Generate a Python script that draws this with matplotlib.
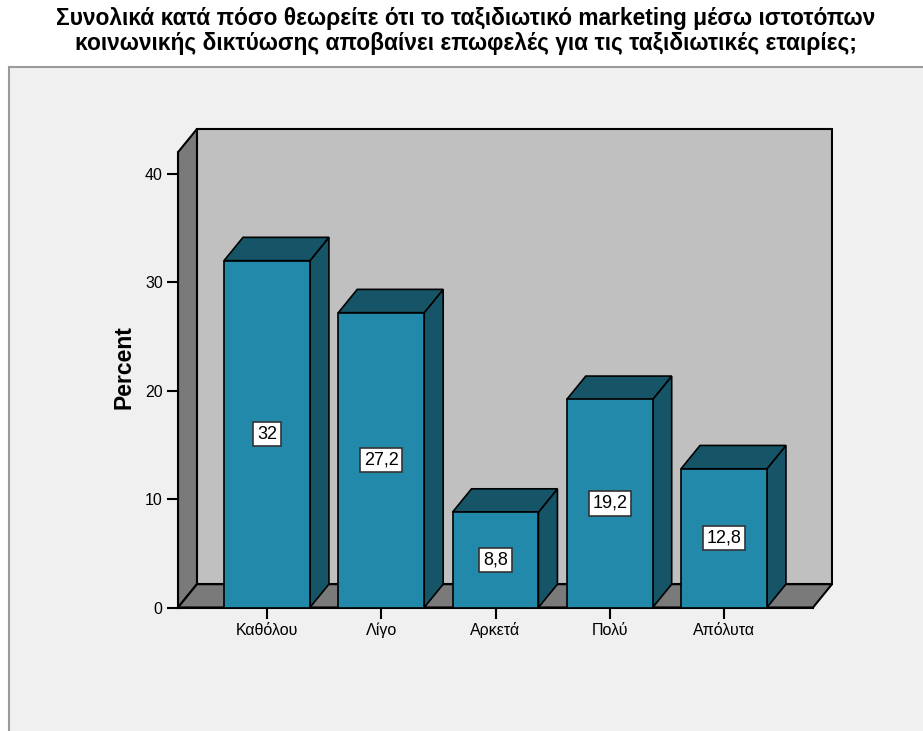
import matplotlib
matplotlib.use("Agg")
import matplotlib.pyplot as plt
from matplotlib.patches import Polygon, Rectangle

plt.rcParams['font.family'] = ['Liberation Sans', 'DejaVu Sans']

# Ποσοστά απαντήσεων ανά κατηγορία
categories = ['Καθόλου', 'Λίγο', 'Αρκετά', 'Πολύ', 'Απόλυτα']
percents = [32.0, 27.2, 8.8, 19.2, 12.8]
value_labels = ['32', '27,2', '8,8', '19,2', '12,8']
y_ticks = [0, 10, 20, 30, 40]

title = ('Συνολικά κατά πόσο θεωρείτε ότι το ταξιδιωτικό marketing μέσω ιστοτόπων\n'
         'κοινωνικής δικτύωσης αποβαίνει επωφελές για τις ταξιδιωτικές εταιρίες;')

FRONT = '#2389ab'
DARK = '#165567'
WALL = '#c0c0c0'
SIDE = '#7a7a7a'

# βάθος του ψευδο-3Δ σε μονάδες δεδομένων
dx, dy = 0.166, 2.15
half = 0.376
x0, x1 = -0.779, 4.779
wall_top = 42.0

fig = plt.figure(figsize=(9.23, 7.31), dpi=100)
fig.patch.set_facecolor('white')

# πλαίσιο γραφήματος
frame = Rectangle((9 / 923, -0.02), 1.2, (731 - 67) / 731 + 0.02,
                  transform=fig.transFigure, facecolor='#f0f0f0',
                  edgecolor='#9a9a9a', lw=1.5, zorder=-5)
fig.patches.append(frame)

fig.text(466 / 923, 1 - 7 / 731, title, ha='center', va='top',
         fontsize=16.4, fontweight='bold', linespacing=1.12)

ax = fig.add_axes([178 / 923, (731 - 607.5) / 731, 655 / 923, 480.5 / 731])
ax.set_zorder(2)
ax.set_xlim(x0, 4.954)
ax.set_ylim(0, 44.33)
ax.patch.set_visible(False)
for s in ['top', 'right']:
    ax.spines[s].set_visible(False)
ax.spines['left'].set_bounds(0, wall_top)
ax.spines['bottom'].set_bounds(x0, x1)
ax.spines['left'].set_linewidth(1.5)
ax.spines['bottom'].set_linewidth(1.5)

# τοίχοι και δάπεδο
ax.add_patch(Rectangle((x0 + dx, dy), x1 - x0, wall_top, facecolor=WALL,
                       edgecolor='black', lw=1.5, zorder=1))
ax.add_patch(Polygon([(x0, 0), (x0, wall_top), (x0 + dx, wall_top + dy), (x0 + dx, dy)],
                     closed=True, facecolor=SIDE, edgecolor='black', lw=1.5, zorder=2))
ax.add_patch(Polygon([(x0, 0), (x1, 0), (x1 + dx, dy), (x0 + dx, dy)],
                     closed=True, facecolor=SIDE, edgecolor='black', lw=1.5, zorder=2))

for i, (v, lab) in enumerate(zip(percents, value_labels)):
    l, r = i - half, i + half
    ax.add_patch(Polygon([(r, 0), (r + dx, dy), (r + dx, v + dy), (r, v)],
                         closed=True, facecolor=DARK, edgecolor='black', lw=1.2, zorder=3))
    ax.add_patch(Polygon([(l, v), (r, v), (r + dx, v + dy), (l + dx, v + dy)],
                         closed=True, facecolor=DARK, edgecolor='black', lw=1.2, zorder=3))
    ax.add_patch(Rectangle((l, 0), r - l, v, facecolor=FRONT,
                           edgecolor='black', lw=1.2, zorder=4))
    ax.text(i, v / 2, lab, ha='center', va='center', fontsize=13, zorder=5,
            bbox=dict(boxstyle='square,pad=0.2', facecolor='white',
                      edgecolor='#333333', lw=1.2))

ax.set_yticks(y_ticks)
ax.set_yticklabels([str(t) for t in y_ticks], fontsize=11.5)
ax.set_xticks(range(len(categories)))
ax.set_xticklabels(categories, fontsize=11.5)
ax.tick_params(axis='both', length=8, width=1.5, direction='out', pad=3)
# κοινή γραμμή βάσης για τις ετικέτες κατηγοριών
ax.tick_params(axis='x', pad=11.5)
for t in ax.get_xticklabels():
    t.set_va('baseline')
ax.set_ylabel('Percent', fontsize=16.5, fontweight='bold', labelpad=7)

fig.savefig('out.png', dpi=100, facecolor=fig.get_facecolor())
